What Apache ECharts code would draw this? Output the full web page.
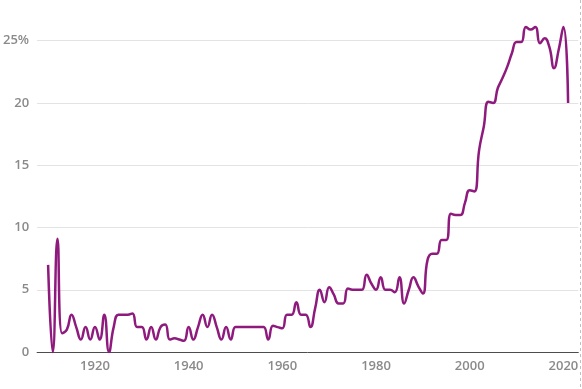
<!DOCTYPE html>
<html>
<head>
<meta charset="utf-8">
<script src="https://cdn.jsdelivr.net/npm/echarts@6/dist/echarts.min.js"></script>
<style>
html,body{margin:0;padding:0;background:#fff;}
#chart{width:582px;height:389px;}
</style>
</head>
<body>
<div id="chart"></div>
<script>
// ---- data ----
const firstYear = 1910;
const values = [
  7, 0, 9.1, 1.5, 1.8, 3, 2, 1, 2, 1,          // 1910-1919
  2, 1, 3, 0, 2, 3, 3, 3, 3.1, 2,              // 1920-1929
  2, 1, 2, 1, 2, 2.2, 1, 1.1, 1, 0.9,          // 1930-1939
  2, 1, 2, 3, 2, 3, 2, 1, 2, 1,                // 1940-1949
  2, 2, 2, 2, 2, 2, 2, 1, 2.1, 2,              // 1950-1959
  1.9, 3, 3, 4, 3, 3, 2, 3.5, 5, 4,            // 1960-1969
  5.2, 4.6, 3.9, 3.9, 5.1, 5, 5, 5, 6.2, 5.5,  // 1970-1979
  5, 6, 5, 5, 4.8, 6, 3.9, 5, 6, 5.3,          // 1980-1989
  4.7, 7.4, 7.9, 7.9, 9, 9, 11.1, 11, 11, 12,  // 1990-1999
  13, 12.9, 16.2, 18.1, 20.1, 20, 21.2, 22, 22.9, 24, // 2000-2009
  24.9, 24.9, 26.1, 25.9, 26.1, 24.8, 25.2, 24.5, 22.8, 24.3, // 2010-2019
  26.1, 20                                      // 2020-2021
];
const years = values.map((_, i) => firstYear + i);
const xTickLabels = [1920, 1940, 1960, 1980, 2000, 2020];
const yTickValues = [0, 5, 10, 15, 20, 25];

const seriesData = years.map((y, i) => [y, values[i]]);

const chart = echarts.init(document.getElementById('chart'), null, {renderer: 'canvas'});
const labelFont = {fontFamily: '"Open Sans", sans-serif', fontSize: 13, fontWeight: 600, color: '#8a8a8a'};

chart.setOption({
  animation: false,
  backgroundColor: '#ffffff',
  grid: {left: 33, right: 3.7, top: 3.4, bottom: 37, containLabel: false},
  xAxis: {
    type: 'value',
    min: 1907.65,
    max: 2023.18,
    axisLine: {show: true, lineStyle: {color: '#4d4d4d', width: 1}},
    axisTick: {show: false},
    splitLine: {show: false},
    axisLabel: Object.assign({
      customValues: xTickLabels,
      margin: 8,
      formatter: v => String(v)
    }, labelFont)
  },
  yAxis: {
    type: 'value',
    min: 0,
    max: 28,
    interval: 5,
    axisLine: {show: false},
    axisTick: {show: false},
    splitLine: {show: true, showMaxLine: false, showMinLine: false, lineStyle: {color: '#e3e3e3', width: 1}},
    axisLabel: Object.assign({
      margin: 8,
      showMaxLabel: false,
      formatter: v => (yTickValues.indexOf(v) === -1 ? '' : (v === 25 ? '25%' : String(v)))
    }, labelFont)
  },
  series: [{
    type: 'line',
    data: seriesData,
    smooth: 0.5,
    showSymbol: false,
    symbol: 'none',
    clip: false,
    lineStyle: {color: '#8e1a7d', width: 2.5}
  }],
  graphic: [{
    type: 'line',
    shape: {x1: 580.5, y1: 0, x2: 580.5, y2: 389},
    style: {stroke: '#c0c0c0', lineWidth: 1, lineDash: [3, 3]},
    silent: true
  }]
});
</script>
</body>
</html>
